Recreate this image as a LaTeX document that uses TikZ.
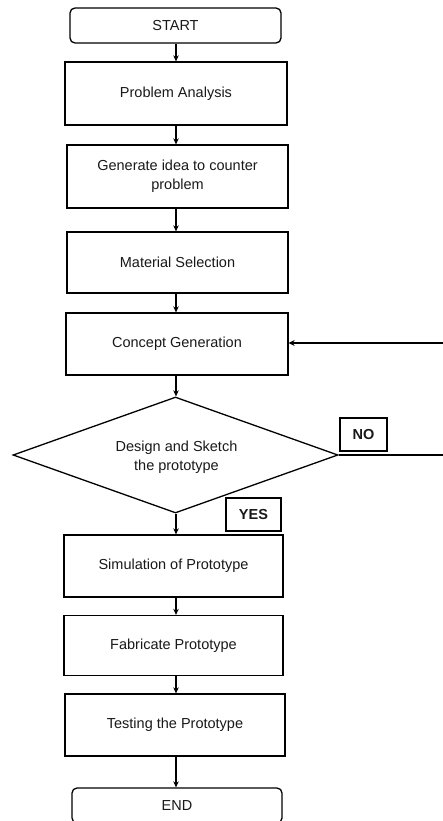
\documentclass[tikz,border=0pt]{standalone}
\usepackage{fontspec}
\setmainfont{Liberation Sans}
\usetikzlibrary{shapes.geometric,arrows.meta}
\begin{document}
\begin{tikzpicture}[x=1pt,y=-1pt,
  every node/.style={font=\fontsize{14.5}{18.5}\selectfont, text=black!90},
  stepbox/.style={draw, line width=1.3pt, minimum width=221pt, minimum height=62pt, inner sep=0pt, align=center},
  termbox/.style={draw, line width=1.3pt, rounded corners=5pt, minimum width=211pt, minimum height=35pt, inner sep=0pt},
  decbox/.style={draw, line width=1.3pt, shape=diamond, aspect=2.8, minimum width=325pt, minimum height=116pt, inner sep=0pt, align=center},
  lblbox/.style={draw, line width=1.3pt, minimum height=33pt, inner sep=0pt, font=\fontsize{14.5}{16}\selectfont\bfseries},
  flow/.style={line width=1.3pt, -{Stealth[length=6pt,width=5.5pt]}},
  fbline/.style={line width=1.3pt},
  fbarrow/.style={line width=2pt, -{Stealth[length=6pt,width=6pt]}}
]
\useasboundingbox (0,0) rectangle (442,821);
\coordinate (axis) at (176,0);

\node[termbox] (start) at (175.5,25.5) {START};
\node[stepbox, minimum width=222pt, minimum height=63pt] (pa) at (176,93.5) {Problem Analysis};
\node[stepbox, minimum height=63pt] (gen) at (177.5,176.5) {Generate idea to counter\\problem};
\node[stepbox, minimum height=61pt] (mat) at (177.5,262.5) {Material Selection};
\node[stepbox, minimum width=222pt] (cg) at (177,344) {Concept Generation};
\node[decbox] (d) at (175.5,455) {};
\node (dtext) at (176.5,457) [align=center] {Design and Sketch\\the prototype};
\node[lblbox, minimum width=47pt] (no) at (363.5,434.5) {NO};
\node[lblbox, minimum width=55pt] (yes) at (253.5,514.5) {YES};
\node[stepbox, minimum width=219pt] (sim) at (173.5,566) {Simulation of Prototype};
\node[stepbox, minimum width=219pt, minimum height=60pt] (fab) at (173.5,645.5) {Fabricate Prototype};
\node[stepbox, minimum width=220pt] (test) at (175,725) {Testing the Prototype};
\node[termbox, minimum width=210pt, minimum height=35pt] (end) at (177,805.5) {END};

\draw[flow] (start.south -| axis) -- (pa.north -| axis);
\draw[flow] (pa.south -| axis) -- (gen.north -| axis);
\draw[flow] (gen.south -| axis) -- (mat.north -| axis);
\draw[flow] (mat.south -| axis) -- (cg.north -| axis);
\draw[flow] (cg.south -| axis) -- (d.north -| axis);
\draw[flow] (d.south -| axis) -- (sim.north -| axis);
\draw[flow] (sim.south -| axis) -- (fab.north -| axis);
\draw[flow] (fab.south -| axis) -- (test.north -| axis);
\draw[flow] (test.south -| axis) -- (end.north -| axis);

\coordinate (fb1) at (445,455);
\coordinate (fb2) at (445,343);
\draw[fbline] (d.east) -- (fb1) -- (fb2);
\draw[fbarrow] (fb2) -- (cg.east |- fb2);
\end{tikzpicture}
\end{document}
